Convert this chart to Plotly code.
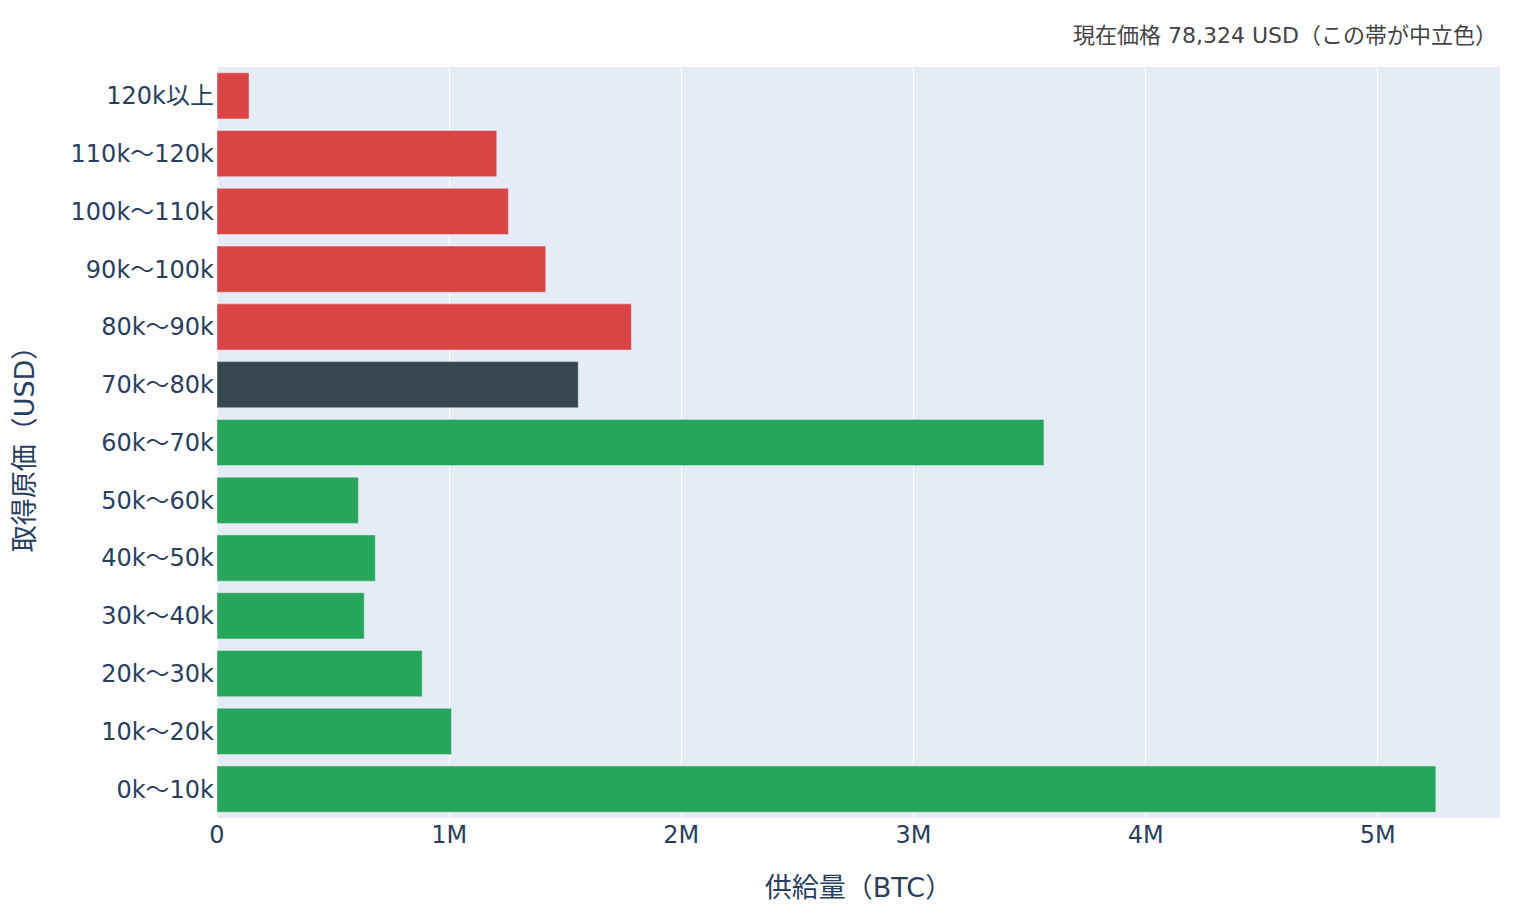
import plotly.graph_objects as go

# cost-basis bands (bottom to top) and BTC supply in each
bands = [
    "0k〜10k", "10k〜20k", "20k〜30k", "30k〜40k", "40k〜50k", "50k〜60k",
    "60k〜70k", "70k〜80k", "80k〜90k", "90k〜100k", "100k〜110k",
    "110k〜120k", "120k以上",
]
supply = [
    5250000, 1010000, 884000, 634000, 682000, 609000,
    3562000, 1556000, 1785000, 1416000, 1255000,
    1205000, 138000,
]
band_color = [
    "#27a55b", "#27a55b", "#27a55b", "#27a55b", "#27a55b", "#27a55b",
    "#27a55b", "#37474f", "#d94545", "#d94545", "#d94545",
    "#d94545", "#d94545",
]
current_price = "78,324"

FONT = "DejaVu Sans, Noto Sans CJK JP, sans-serif"

fig = go.Figure(
    go.Bar(
        x=supply,
        y=bands,
        orientation="h",
        marker=dict(color=band_color),
    )
)

fig.add_annotation(
    text=f"現在価格 {current_price} USD（この帯が中立色）",
    xref="paper", yref="paper",
    x=0.999, y=1.0413,
    xanchor="right", yanchor="middle",
    showarrow=False,
    font=dict(size=22, color="#444", family=FONT),
)

fig.update_layout(
    width=1520,
    height=920,
    margin=dict(l=209, r=28, t=59, b=110),
    font=dict(size=24, family=FONT, color="#2a3f5f"),
    showlegend=False,
    xaxis=dict(
        automargin=False,
        title=dict(text="供給量（BTC）", font=dict(size=27), standoff=30),
    ),
    yaxis=dict(
        automargin=False,
        ticklabelstandoff=2,
        title=dict(text="取得原価（USD）", font=dict(size=27), standoff=28),
    ),
)

fig.write_html("out.html")
